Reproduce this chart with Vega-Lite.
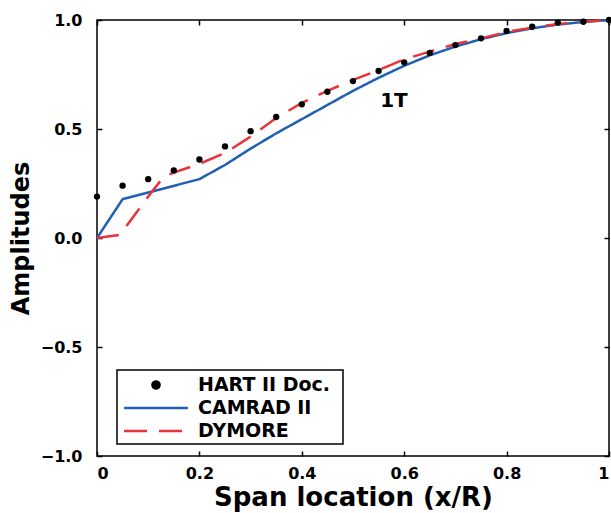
{
  "$schema": "https://vega.github.io/schema/vega-lite/v6.json",
  "width": 512,
  "height": 436,
  "autosize": "none",
  "padding": {"left": 97, "top": 20, "right": 2, "bottom": 57},
  "background": "white",
  "config": {
    "view": {"stroke": "black", "strokeWidth": 1.5},
    "font": "DejaVu Sans",
    "axis": {
      "grid": false,
      "domain": false,
      "tickColor": "black",
      "tickWidth": 1.5,
      "tickSize": -5,
      "labelFont": "DejaVu Sans",
      "labelFontWeight": "bold",
      "labelFontSize": 16,
      "labelColor": "black",
      "titleFont": "DejaVu Sans",
      "titleFontWeight": "bold",
      "titleFontSize": 26,
      "titleColor": "black"
    }
  },
  "datasets": {
    "hart": [
      {"x": 0.0, "y": 0.19, "series": "HART II Doc."},
      {"x": 0.05, "y": 0.24, "series": "HART II Doc."},
      {"x": 0.1, "y": 0.27, "series": "HART II Doc."},
      {"x": 0.15, "y": 0.31, "series": "HART II Doc."},
      {"x": 0.2, "y": 0.36, "series": "HART II Doc."},
      {"x": 0.25, "y": 0.42, "series": "HART II Doc."},
      {"x": 0.3, "y": 0.49, "series": "HART II Doc."},
      {"x": 0.35, "y": 0.555, "series": "HART II Doc."},
      {"x": 0.4, "y": 0.613, "series": "HART II Doc."},
      {"x": 0.45, "y": 0.671, "series": "HART II Doc."},
      {"x": 0.5, "y": 0.72, "series": "HART II Doc."},
      {"x": 0.55, "y": 0.766, "series": "HART II Doc."},
      {"x": 0.6, "y": 0.806, "series": "HART II Doc."},
      {"x": 0.65, "y": 0.849, "series": "HART II Doc."},
      {"x": 0.7, "y": 0.885, "series": "HART II Doc."},
      {"x": 0.75, "y": 0.916, "series": "HART II Doc."},
      {"x": 0.8, "y": 0.95, "series": "HART II Doc."},
      {"x": 0.85, "y": 0.969, "series": "HART II Doc."},
      {"x": 0.9, "y": 0.988, "series": "HART II Doc."},
      {"x": 0.95, "y": 0.992, "series": "HART II Doc."},
      {"x": 1.0, "y": 1.0, "series": "HART II Doc."}
    ],
    "models": [
      {"x": 0.0, "y": 0.0, "series": "CAMRAD II"},
      {"x": 0.05, "y": 0.178, "series": "CAMRAD II"},
      {"x": 0.2, "y": 0.27, "series": "CAMRAD II"},
      {"x": 0.25, "y": 0.335, "series": "CAMRAD II"},
      {"x": 0.3, "y": 0.41, "series": "CAMRAD II"},
      {"x": 0.35, "y": 0.48, "series": "CAMRAD II"},
      {"x": 0.4, "y": 0.545, "series": "CAMRAD II"},
      {"x": 0.45, "y": 0.61, "series": "CAMRAD II"},
      {"x": 0.5, "y": 0.675, "series": "CAMRAD II"},
      {"x": 0.55, "y": 0.735, "series": "CAMRAD II"},
      {"x": 0.6, "y": 0.79, "series": "CAMRAD II"},
      {"x": 0.65, "y": 0.838, "series": "CAMRAD II"},
      {"x": 0.7, "y": 0.878, "series": "CAMRAD II"},
      {"x": 0.75, "y": 0.912, "series": "CAMRAD II"},
      {"x": 0.8, "y": 0.94, "series": "CAMRAD II"},
      {"x": 0.85, "y": 0.962, "series": "CAMRAD II"},
      {"x": 0.9, "y": 0.979, "series": "CAMRAD II"},
      {"x": 0.95, "y": 0.991, "series": "CAMRAD II"},
      {"x": 1.0, "y": 1.0, "series": "CAMRAD II"},
      {"x": 0.0, "y": 0.0, "series": "DYMORE"},
      {"x": 0.045, "y": 0.015, "series": "DYMORE"},
      {"x": 0.1, "y": 0.19, "series": "DYMORE"},
      {"x": 0.13, "y": 0.28, "series": "DYMORE"},
      {"x": 0.15, "y": 0.3, "series": "DYMORE"},
      {"x": 0.2, "y": 0.34, "series": "DYMORE"},
      {"x": 0.25, "y": 0.39, "series": "DYMORE"},
      {"x": 0.3, "y": 0.465, "series": "DYMORE"},
      {"x": 0.35, "y": 0.55, "series": "DYMORE"},
      {"x": 0.4, "y": 0.62, "series": "DYMORE"},
      {"x": 0.45, "y": 0.675, "series": "DYMORE"},
      {"x": 0.5, "y": 0.725, "series": "DYMORE"},
      {"x": 0.55, "y": 0.77, "series": "DYMORE"},
      {"x": 0.6, "y": 0.82, "series": "DYMORE"},
      {"x": 0.65, "y": 0.855, "series": "DYMORE"},
      {"x": 0.7, "y": 0.89, "series": "DYMORE"},
      {"x": 0.75, "y": 0.915, "series": "DYMORE"},
      {"x": 0.8, "y": 0.945, "series": "DYMORE"},
      {"x": 0.85, "y": 0.965, "series": "DYMORE"},
      {"x": 0.9, "y": 0.982, "series": "DYMORE"},
      {"x": 0.95, "y": 0.992, "series": "DYMORE"},
      {"x": 1.0, "y": 1.0, "series": "DYMORE"}
    ],
    "notes": [{"x": 0.58, "y": 0.63, "label": "1T"}]
  },
  "resolve": {"axis": {"x": "independent", "y": "independent"}},
  "layer": [
    {
      "mark": {"type": "rule", "color": "black", "strokeWidth": 1},
      "encoding": {
        "y": {"datum": 0, "type": "quantitative", "scale": {"domain": [-1, 1], "nice": false, "zero": false}, "axis": null}
      }
    },
    {
      "data": {"name": "models"},
      "mark": {"type": "line", "strokeWidth": 2.5},
      "encoding": {
        "x": {"field": "x", "type": "quantitative", "scale": {"domain": [0, 1], "nice": false, "zero": false},
          "axis": {"orient": "bottom", "values": [0, 0.2, 0.4, 0.6, 0.8, 1], "format": "~g", "labelPadding": 14, "title": "Span location (x/R)", "titlePadding": 3}},
        "y": {"field": "y", "type": "quantitative", "scale": {"domain": [-1, 1], "nice": false, "zero": false},
          "axis": {"orient": "left", "values": [-1, -0.5, 0, 0.5, 1], "format": ".1f", "labelPadding": 20, "title": "Amplitudes", "titleFontSize": 24, "titlePadding": 7}},
        "color": {"field": "series", "type": "nominal",
          "scale": {"domain": ["HART II Doc.", "CAMRAD II", "DYMORE"], "range": ["black", "#1f5fb4", "#e8333a"]},
          "legend": {
            "title": null,
            "orient": "none",
            "legendX": 20,
            "legendY": 350,
            "strokeColor": "black",
            "padding": 3,
            "rowPadding": 1,
            "symbolSize": 455,
            "symbolType": "M-3,0H3",
            "symbolOffset": 24,
            "labelOffset": 30,
            "labelFont": "DejaVu Sans",
            "labelFontWeight": "bold",
            "labelFontSize": 19,
            "labelColor": "black",
            "labelLimit": 400,
            "encode": {
              "legend": {"update": {"strokeWidth": {"value": 1.5}}},
              "labels": {"update": {"text": {"signal": "datum.label + '\u2002\u200b'"}}},
              "symbols": {"update": {
                "shape": {"signal": "datum.value === 'HART II Doc.' ? 'M-0.33,0A0.33,0.33,0,1,1,0.33,0A0.33,0.33,0,1,1,-0.33,0Z' : 'M-3,0H3'"},
                "fill": {"signal": "datum.value === 'HART II Doc.' ? 'black' : 'transparent'"},
                "stroke": {"signal": "datum.value === 'HART II Doc.' ? 'transparent' : (datum.value === 'CAMRAD II' ? '#1f5fb4' : '#e8333a')"},
                "strokeDash": {"signal": "datum.value === 'DYMORE' ? [23, 12] : [1, 0]"},
                "strokeWidth": {"value": 2.5},
                "opacity": {"value": 1},
                "size": {"value": 455}
              }}
            }
          }},
        "strokeDash": {"field": "series", "type": "nominal",
          "scale": {"domain": ["CAMRAD II", "DYMORE"], "range": [[1, 0], [22, 12]]}, "legend": null}
      }
    },
    {
      "data": {"name": "hart"},
      "mark": {"type": "point", "filled": true, "size": 40, "opacity": 1},
      "encoding": {
        "x": {"field": "x", "type": "quantitative", "axis": {"orient": "top", "values": [0, 0.2, 0.4, 0.6, 0.8, 1], "labels": false, "title": null}},
        "y": {"field": "y", "type": "quantitative", "axis": {"orient": "right", "values": [-1, -0.5, 0, 0.5, 1], "labels": false, "title": null}},
        "color": {"field": "series", "type": "nominal"}
      }
    },
    {
      "data": {"name": "notes"},
      "mark": {"type": "text", "font": "DejaVu Sans", "fontWeight": "bold", "fontSize": 20, "color": "black"},
      "encoding": {
        "x": {"field": "x", "type": "quantitative", "axis": null},
        "y": {"field": "y", "type": "quantitative", "axis": null},
        "text": {"field": "label"}
      }
    }
  ]
}
